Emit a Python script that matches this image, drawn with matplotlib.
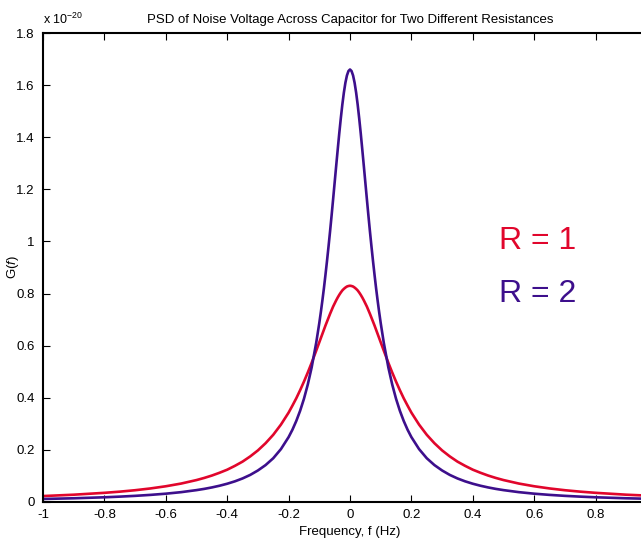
import numpy as np
import matplotlib
matplotlib.use("Agg")
import matplotlib.pyplot as plt

plt.rcParams['font.family'] = ['Liberation Sans', 'DejaVu Sans']
plt.rcParams['axes.unicode_minus'] = False
plt.rcParams['mathtext.fontset'] = 'custom'
plt.rcParams['mathtext.rm'] = 'Liberation Sans'
plt.rcParams['mathtext.it'] = 'Liberation Sans:italic'

# half of the (symmetric) curves, in units of 1e-20
f_half = [0.0, 0.005, 0.01, 0.015, 0.02, 0.025, 0.03, 0.035, 0.04, 0.045, 0.05,
          0.055, 0.06, 0.065, 0.07, 0.075, 0.08, 0.085, 0.09, 0.095, 0.10,
          0.11, 0.125, 0.1375, 0.15, 0.1625, 0.175, 0.1875, 0.2, 0.225, 0.25,
          0.275, 0.3, 0.325, 0.35, 0.375, 0.4, 0.425, 0.45, 0.475, 0.5,
          0.55, 0.6, 0.65, 0.7, 0.75, 0.8, 0.9, 1.0]
g_r1_half = [0.830, 0.829, 0.827, 0.823, 0.818, 0.812, 0.804, 0.795, 0.785, 0.774, 0.762,
             0.750, 0.736, 0.722, 0.707, 0.692, 0.677, 0.661, 0.645, 0.629, 0.613,
             0.581, 0.534, 0.497, 0.462, 0.429, 0.398, 0.370, 0.343, 0.297, 0.258,
             0.2256, 0.198, 0.175, 0.155, 0.1387, 0.124, 0.1122, 0.1015, 0.0923, 0.0842,
             0.0708, 0.0604, 0.0520, 0.0452, 0.0397, 0.0352, 0.0280, 0.0228]
g_r2_half = [1.660, 1.654, 1.637, 1.609, 1.571, 1.525, 1.472, 1.4145, 1.353, 1.290, 1.226,
             1.162, 1.099, 1.038, 0.980, 0.924, 0.871, 0.820, 0.773, 0.7285, 0.687,
             0.6115, 0.516, 0.451, 0.396, 0.350, 0.311, 0.2775, 0.249, 0.203, 0.168,
             0.1417, 0.121, 0.104, 0.0904, 0.0793, 0.0701, 0.0624, 0.0559, 0.0503, 0.0456,
             0.0378, 0.0319, 0.0273, 0.0236, 0.0206, 0.0181, 0.0143, 0.0116]

xticks = [-1, -0.8, -0.6, -0.4, -0.2, 0, 0.2, 0.4, 0.6, 0.8, 1]
xtick_labels = ['-1', '-0.8', '-0.6', '-0.4', '-0.2', '0', '0.2', '0.4', '0.6', '0.8', '']
yticks = [0, 0.2, 0.4, 0.6, 0.8, 1, 1.2, 1.4, 1.6, 1.8]
ytick_labels = ['0', '0.2', '0.4', '0.6', '0.8', '1', '1.2', '1.4', '1.6', '1.8']

# mirror to negative frequencies
f = np.concatenate([-np.array(f_half[:0:-1]), f_half])
g_r1 = np.concatenate([g_r1_half[:0:-1], g_r1_half])
g_r2 = np.concatenate([g_r2_half[:0:-1], g_r2_half])

red = '#E1062C'
purple = '#3D0F8C'

fig = plt.figure(figsize=(6.41, 5.40), dpi=100)
ax = fig.add_axes([43 / 641, 38 / 540, 614 / 641, 469 / 540])

ax.plot(f, g_r1, color=red, lw=1.9)
ax.plot(f, g_r2, color=purple, lw=1.9)

ax.set_xlim(-1, 1)
ax.set_ylim(0, 1.8)
ax.set_xticks(xticks)
ax.set_xticklabels(xtick_labels)
ax.set_yticks(yticks)
ax.set_yticklabels(ytick_labels)
ax.tick_params(direction='in', length=5, width=0.8, labelsize=9.5,
               top=True, right=True)
ax.tick_params(axis='x', pad=5)
ax.tick_params(axis='y', pad=6)
for s in ax.spines.values():
    s.set_linewidth(1.5)

ax.set_title("PSD of Noise Voltage Across Capacitor for Two Different Resistances",
             fontsize=9.5, pad=7)
ax.set_xlabel("Frequency, f (Hz)", fontsize=9.5, labelpad=4)
ax.set_ylabel(r"G($\it{f}$)", fontsize=9.5)
ax.yaxis.set_label_coords(-0.036, 0.5)

ax.text(0.485, 1.0, "R = 1", color=red, fontsize=23, va='center', ha='left')
ax.text(0.485, 0.80, "R = 2", color=purple, fontsize=23, va='center', ha='left')

fig.text(43 / 641, 1 - 19 / 540, r"x 10$^{-20}$", fontsize=9, ha='left', va='center')

fig.savefig("out.png", dpi=100)
